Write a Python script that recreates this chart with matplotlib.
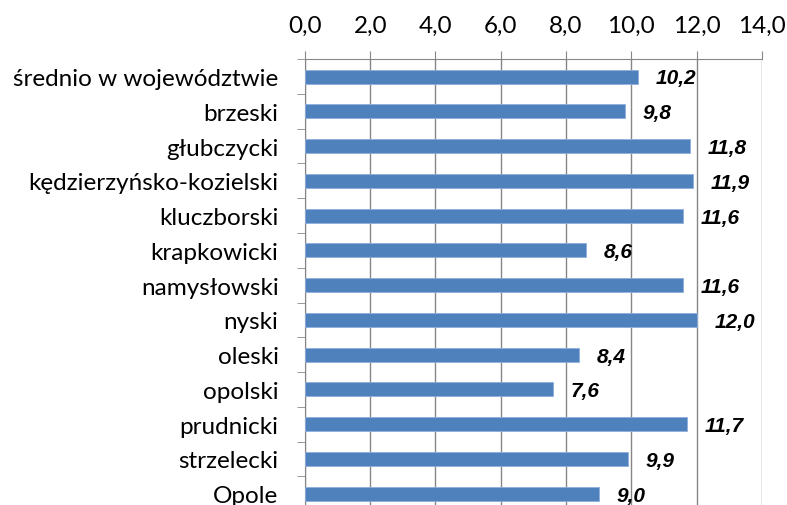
import matplotlib
matplotlib.use("Agg")
import matplotlib.pyplot as plt
import matplotlib.transforms as mtransforms

powiaty = ["średnio w województwie", "brzeski", "głubczycki",
           "kędzierzyńsko-kozielski", "kluczborski", "krapkowicki",
           "namysłowski", "nyski", "oleski", "opolski", "prudnicki",
           "strzelecki", "Opole"]
wartosci = [10.2, 9.8, 11.8, 11.9, 11.6, 8.6, 11.6, 12.0, 8.4, 7.6, 11.7, 9.9, 9.0]
ticki = [0, 2, 4, 6, 8, 10, 12, 14]

fig = plt.figure(figsize=(7.87, 5.06), dpi=100)
ax = fig.add_axes([0.3875, -0.012, 0.5805, 0.893])

pos = list(range(len(powiaty)))
ax.barh(pos, wartosci, height=0.4, color="#4F81BD", edgecolor="#8EAEDB",
        linewidth=0.6, zorder=3)

for p, v in zip(pos, wartosci):
    ax.text(v + 0.54, p + 0.04, f"{v:.1f}".replace(".", ","),
            ha="left", va="center", fontsize=15, fontweight="bold",
            fontstyle="italic", family="Liberation Sans", zorder=4)

ax.set_xlim(0, 14)
ax.set_ylim(len(powiaty) - 0.5, -0.5)
ax.set_xticks(ticki)
ax.set_xticklabels([f"{t:.1f}".replace(".", ",") for t in ticki],
                   family="Lato", fontsize=17.5)
ax.set_yticks(pos)
ax.set_yticklabels(powiaty, family="Lato", fontsize=17.5)
ax.set_yticks([p - 0.5 for p in pos] + [len(pos) - 0.5], minor=True)

# etykiety kategorii troche wyzej
przesun = mtransforms.ScaledTranslation(0, 2 / 100, fig.dpi_scale_trans)
for lab in ax.get_yticklabels():
    lab.set_transform(lab.get_transform() + przesun)

ax.xaxis.tick_top()
ax.tick_params(axis="x", which="major", length=6, color="#868686", pad=11)
ax.tick_params(axis="y", which="major", length=0, pad=19)
ax.tick_params(axis="y", which="minor", length=6, color="#868686")
ax.grid(axis="x", color="#868686", linewidth=1, zorder=0)

for s in ["right", "bottom"]:
    ax.spines[s].set_visible(False)
for s in ["top", "left"]:
    ax.spines[s].set_color("#868686")

fig.savefig("out.png", dpi=100)
